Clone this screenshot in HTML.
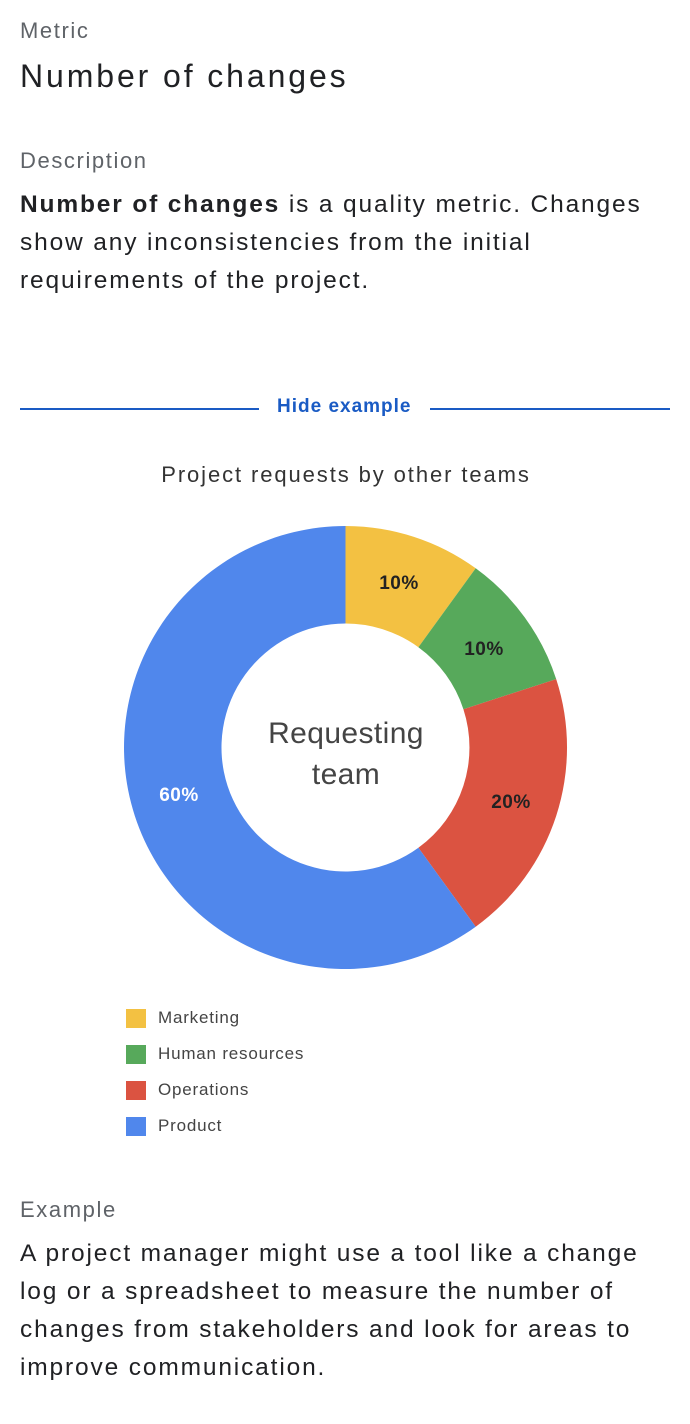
<!DOCTYPE html>
<html><head><meta charset="utf-8"><style>
body{margin:0;width:690px;height:1424px;background:#fff;font-family:"Liberation Sans",sans-serif;color:#202124;position:relative;overflow:hidden}
.a{position:absolute;white-space:nowrap}
.lbl{font-size:22px;color:#5f6368;letter-spacing:1.6px}
.body{font-size:24.5px;line-height:38px;color:#202124;letter-spacing:1.85px}
.leg{font-size:17px;color:#444;letter-spacing:0.8px}
.sq{position:absolute;width:20px;height:19px}
</style></head><body>
<div class="a lbl" style="left:20px;top:18px">Metric</div>
<div class="a" style="left:20px;top:58px;font-size:32px;letter-spacing:2.9px">Number of changes</div>
<div class="a lbl" style="left:20px;top:148px">Description</div>
<div class="a body" style="left:20px;top:186px"><b>Number of changes</b> is a quality metric. Changes<br>show any inconsistencies from the initial<br>requirements of the project.</div>
<div class="a" style="left:20px;top:408px;width:239px;height:1.5px;background:#1a5bc4"></div>
<div class="a" style="left:430px;top:408px;width:240px;height:1.5px;background:#1a5bc4"></div>
<div class="a" style="left:277px;top:396px;font-size:19px;font-weight:bold;color:#1a5bc4;letter-spacing:1px">Hide example</div>
<svg class="a" style="left:0;top:0" width="690" height="1424">
<text x="346" y="482" text-anchor="middle" font-size="22" fill="#333" font-family="Liberation Sans" letter-spacing="1.9">Project requests by other teams</text>
<path d="M345.5,526 A221.5,221.5 0 0 1 475.7,568.3 L418.4,647.2 A124,124 0 0 0 345.5,623.5 Z" fill="#F3C142"/>
<path d="M475.7,568.3 A221.5,221.5 0 0 1 556.2,679.1 L463.4,709.2 A124,124 0 0 0 418.4,647.2 Z" fill="#57A95B"/>
<path d="M556.2,679.1 A221.5,221.5 0 0 1 475.7,926.7 L418.4,847.8 A124,124 0 0 0 463.4,709.2 Z" fill="#DB5341"/>
<path d="M475.7,926.7 A221.5,221.5 0 1 1 345.5,526 L345.5,623.5 A124,124 0 1 0 418.4,847.8 Z" fill="#5087EC"/>
<g font-family="Liberation Sans" font-weight="bold" font-size="19" text-anchor="middle" letter-spacing="0.5">
<text x="399" y="589" fill="#222">10%</text>
<text x="484" y="655" fill="#222">10%</text>
<text x="511" y="808" fill="#222">20%</text>
<text x="179" y="801" fill="#fff">60%</text>
</g>
<text x="346" y="743" text-anchor="middle" font-size="30" fill="#444" font-family="Liberation Sans" letter-spacing="0.4">Requesting</text>
<text x="346" y="784" text-anchor="middle" font-size="30" fill="#444" font-family="Liberation Sans" letter-spacing="0.4">team</text>
</svg>
<div class="sq" style="left:126px;top:1009px;background:#F3C142"></div>
<div class="a leg" style="left:158px;top:1008px">Marketing</div>
<div class="sq" style="left:126px;top:1045px;background:#57A95B"></div>
<div class="a leg" style="left:158px;top:1044px">Human resources</div>
<div class="sq" style="left:126px;top:1081px;background:#DB5341"></div>
<div class="a leg" style="left:158px;top:1080px">Operations</div>
<div class="sq" style="left:126px;top:1117px;background:#5087EC"></div>
<div class="a leg" style="left:158px;top:1116px">Product</div>
<div class="a lbl" style="left:20px;top:1197px">Example</div>
<div class="a body" style="left:20px;top:1235px">A project manager might use a tool like a change<br>log or a spreadsheet to measure the number of<br>changes from stakeholders and look for areas to<br>improve communication.</div>
</body></html>
